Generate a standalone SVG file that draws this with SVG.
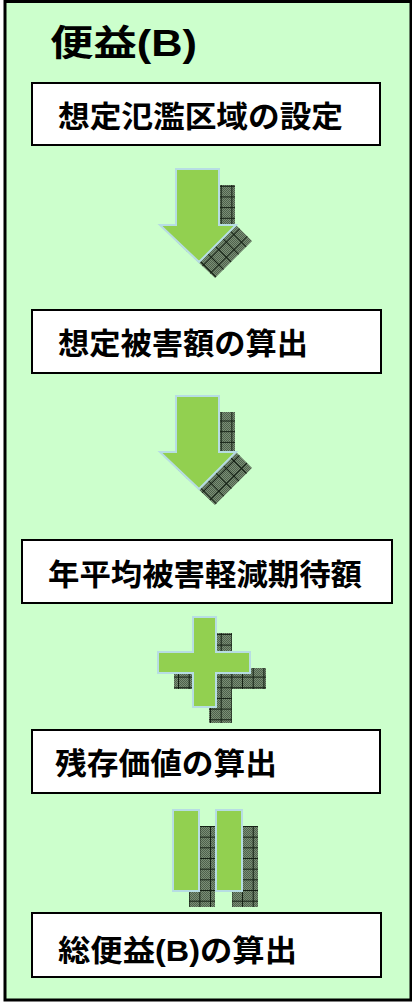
<svg xmlns="http://www.w3.org/2000/svg" width="412" height="1003" viewBox="0 0 412 1003">
<style>
.box{fill:#ffffff;stroke:#000000;stroke-width:2}
.lbl{font-family:"Liberation Sans","Noto Sans CJK JP",sans-serif;font-weight:bold;font-size:30px;fill:#000000}
.sym{fill:#92d050;stroke:#b7dde3;stroke-width:2;stroke-linejoin:miter}
.sh1{fill:url(#dither);stroke:none}
.sh2{fill:url(#grid);stroke:none}
.sh3{fill:url(#gridd);stroke:none}
</style>
<defs>
<pattern id="dither" patternUnits="userSpaceOnUse" width="2" height="2">
<rect width="2" height="2" fill="#7a8e76"/>
<rect width="1" height="1" fill="#4f624c"/>
<rect x="1" y="1" width="1" height="1" fill="#4f624c"/>
</pattern>
<pattern id="grid" patternUnits="userSpaceOnUse" x="7.3" y="4.4" width="10.67" height="10.67">
<path d="M0,0.5 H10.67 M0.5,0 V10.67" stroke="#142014" stroke-width="1" fill="none"/>
</pattern>
<pattern id="gridd" patternUnits="userSpaceOnUse" width="10.67" height="10.67" patternTransform="rotate(45)">
<path d="M0,0.5 H10.67 M0.5,0 V10.67" stroke="#142014" stroke-width="1" fill="none"/>
</pattern>
</defs>
<rect x="5" y="1.5" width="406" height="998.5" fill="#ccffcc" stroke="#000000" stroke-width="3"/>
<g id="title">
<text x="50" y="56" font-family="Liberation Sans,'Noto Sans CJK JP',sans-serif" font-weight="bold" font-size="36" textLength="147" lengthAdjust="spacingAndGlyphs">便益(B)</text>
</g>
<g id="connectors">
<g id="arrow1">
<rect class="sh1" x="192" y="185" width="43" height="40"/>
<rect class="sh2" x="192" y="185" width="43" height="40"/>
<polygon class="sh1" points="219,225 236,225 252,241 215,278 176,241"/>
<polygon class="sh3" points="219,225 236,225 252,241 215,278 176,241"/>
<path class="sym" d="M176,169 H219 V225 H236 L199,262 L160,225 H176 Z"/>
</g>
<g id="arrow2">
<rect class="sh1" x="192" y="412" width="43" height="40"/>
<rect class="sh2" x="192" y="412" width="43" height="40"/>
<polygon class="sh1" points="219,452 236,452 252,468 215,505 176,468"/>
<polygon class="sh3" points="219,452 236,452 252,468 215,505 176,468"/>
<path class="sym" d="M176,396 H219 V452 H236 L199,489 L160,452 H176 Z"/>
</g>
<g id="plus">
<path class="sh1" d="M209,633 H232 V668 H266 V689 H232 V723 H209 V689 H174 V668 H209 Z"/>
<path class="sh2" d="M209,633 H232 V668 H266 V689 H232 V723 H209 V689 H174 V668 H209 Z"/>
<path class="sym" d="M193,617 H216 V652 H250 V673 H216 V707 H193 V673 H158 V652 H193 Z"/>
</g>
<g id="equals">
<rect class="sh1" x="189" y="826" width="26" height="81"/>
<rect class="sh2" x="189" y="826" width="26" height="81"/>
<rect class="sh1" x="232" y="826" width="26" height="81"/>
<rect class="sh2" x="232" y="826" width="26" height="81"/>
<rect class="sym" x="173" y="810" width="26" height="81"/>
<rect class="sym" x="216" y="810" width="26" height="81"/>
</g>
</g>
<g id="node1">
<rect class="box" x="32" y="83" width="348" height="62"/>
<text class="lbl" x="58" y="127" textLength="285" lengthAdjust="spacingAndGlyphs">想定氾濫区域の設定</text>
</g>
<g id="node2">
<rect class="box" x="32" y="310" width="349" height="63"/>
<text class="lbl" x="58" y="354" textLength="250" lengthAdjust="spacingAndGlyphs">想定被害額の算出</text>
</g>
<g id="node3">
<rect class="box" x="22" y="540" width="370" height="63"/>
<text class="lbl" x="48" y="585" textLength="314" lengthAdjust="spacingAndGlyphs">年平均被害軽減期待額</text>
</g>
<g id="node4">
<rect class="box" x="32" y="730" width="348" height="63"/>
<text class="lbl" x="55" y="774" textLength="222" lengthAdjust="spacingAndGlyphs">残存価値の算出</text>
</g>
<g id="node5">
<rect class="box" x="32" y="913" width="349" height="64"/>
<text class="lbl" x="58" y="961" textLength="239" lengthAdjust="spacingAndGlyphs">総便益(B)の算出</text>
</g>
</svg>
